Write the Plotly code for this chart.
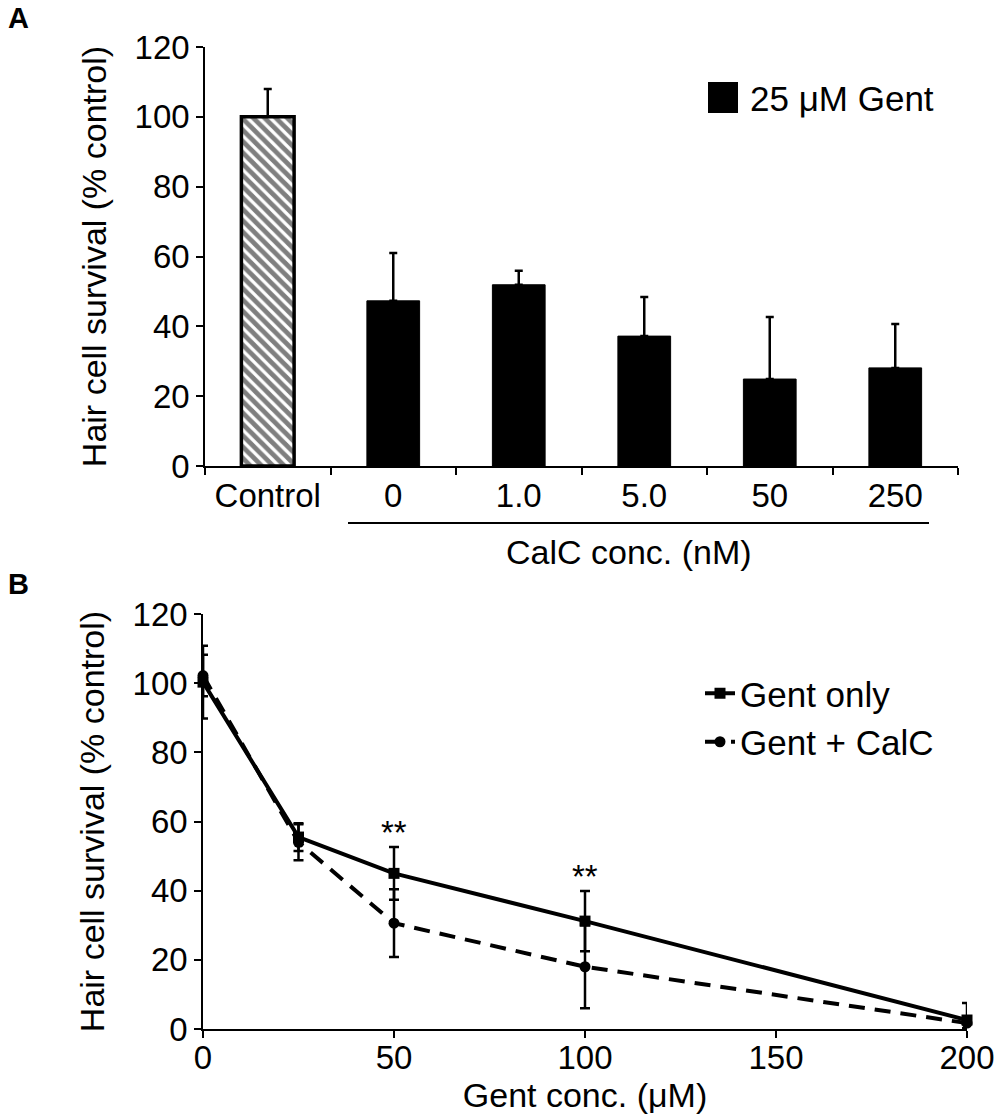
import plotly.graph_objects as go

# ---------- Data: panel A (bars) ----------
CATS_A = ["Control", "0", "1.0", "5.0", "50", "250"]
SURV_A = [100, 47.3, 51.9, 37.2, 24.9, 28.1]
ERR_A = [8.0, 13.7, 4.0, 11.2, 17.8, 12.6]
STAR_A = ["", "", "", "", "*", "*"]

# ---------- Data: panel B (dose response) ----------
GENT_X = [0, 25, 50, 100, 200]
GENT_ONLY = [100.3, 55.5, 45.0, 31.2, 2.6]
GENT_ONLY_ERR = [10.5, 4.0, 7.6, 8.7, 4.9]
GENT_CALC = [102.2, 54.0, 30.6, 18.0, 1.7]
GENT_CALC_ERR = [6.0, 5.2, 9.8, 12.0, 1.5]
STAR_B = ["", "", "**", "**", ""]

FONT = "Arial, Liberation Sans, sans-serif"
TICK_FS = 33
TITLE_FS = 34
LEG_FS = 35
W, H = 1000, 1118


def px(pixel):
    return pixel / W


def py(pixel):
    return 1 - pixel / H


fig = go.Figure()

# panel A
fig.add_trace(go.Bar(
    x=CATS_A[:1], y=SURV_A[:1], xaxis="x", yaxis="y", width=0.42, showlegend=False,
    marker=dict(color="white", line=dict(color="black", width=3.5),
                pattern=dict(shape="\\", fgcolor="black", bgcolor="white", size=8, solidity=0.6)),
    error_y=dict(type="data", symmetric=False, array=ERR_A[:1], arrayminus=[0],
                 color="black", thickness=2.5, width=4),
))
fig.add_trace(go.Bar(
    x=CATS_A[1:], y=SURV_A[1:], xaxis="x", yaxis="y", width=0.42, name="25 μM Gent",
    showlegend=False,
    marker=dict(color="black", line=dict(color="black", width=1)),
    error_y=dict(type="data", symmetric=False, array=ERR_A[1:], arrayminus=[0] * 5,
                 color="black", thickness=2.5, width=4),
))

# panel B
fig.add_trace(go.Scatter(
    x=GENT_X, y=GENT_ONLY, xaxis="x2", yaxis="y2", name="Gent only", legend="legend2",
    mode="lines+markers", cliponaxis=False,
    line=dict(color="black", width=4),
    marker=dict(symbol="square", size=11, color="black"),
    error_y=dict(type="data", array=GENT_ONLY_ERR, color="black", thickness=2.5, width=5),
))
fig.add_trace(go.Scatter(
    x=GENT_X, y=GENT_CALC, xaxis="x2", yaxis="y2", name="Gent + CalC", legend="legend2",
    mode="lines+markers", cliponaxis=False,
    line=dict(color="black", width=4, dash="16px,10px"),
    marker=dict(symbol="circle", size=11, color="black"),
    error_y=dict(type="data", array=GENT_CALC_ERR, color="black", thickness=2.5, width=5),
))

annotations = []
for c, v, e, s in zip(CATS_A, SURV_A, ERR_A, STAR_A):
    if s:
        annotations.append(dict(x=c, y=v + e, xref="x", yref="y", text=s, showarrow=False,
                                yanchor="bottom", font=dict(size=TICK_FS, color="black")))
for x, v, e, s in zip(GENT_X, GENT_ONLY, GENT_ONLY_ERR, STAR_B):
    if s:
        annotations.append(dict(x=x, y=v + e, xref="x2", yref="y2", text=s, showarrow=False,
                                yanchor="bottom", yshift=-6, font=dict(size=TICK_FS, color="black")))

annotations += [
    dict(x=px(6), y=py(0), xref="paper", yref="paper", text="<b>A</b>", showarrow=False,
         xanchor="left", yanchor="top", font=dict(size=29, color="black")),
    dict(x=px(6), y=py(566), xref="paper", yref="paper", text="<b>B</b>", showarrow=False,
         xanchor="left", yanchor="top", font=dict(size=29, color="black")),
    dict(x=px(629), y=py(552), xref="paper", yref="paper", text="CalC conc. (nM)", showarrow=False,
         xanchor="center", yanchor="middle", font=dict(size=TITLE_FS, color="black")),
    # panel A legend text (square drawn as a shape below)
    dict(x=px(748), y=py(98), xref="paper", yref="paper", text="25 μM Gent", showarrow=False,
         xanchor="left", yanchor="middle", font=dict(size=LEG_FS, color="black")),
]

axis_common = dict(showline=True, linecolor="black", linewidth=1.5, ticks="outside",
                   ticklen=7, tickcolor="black", tickwidth=1.5, showgrid=False, zeroline=False,
                   automargin=False, tickfont=dict(size=TICK_FS, color="black", family=FONT))
ytitle = "Hair cell survival (% control)"

fig.update_layout(
    width=W, height=H, margin=dict(l=0, r=0, t=0, b=0, autoexpand=False),
    paper_bgcolor="white", plot_bgcolor="white",
    font=dict(family=FONT, color="black", size=TICK_FS),
    xaxis=dict(domain=[px(205), px(958)], anchor="y", type="category", range=[-0.5, 5.5],
               tickson="boundaries", **axis_common),
    yaxis=dict(domain=[py(466), py(47)], anchor="x", range=[0, 120], tickvals=list(range(0, 121, 20)),
               title=dict(text=ytitle, standoff=18, font=dict(size=TITLE_FS, color="black")),
               **axis_common),
    xaxis2=dict(domain=[px(203), px(967)], anchor="y2", range=[0, 200], tickvals=[0, 50, 100, 150, 200],
                ticklabelstandoff=-8,
                title=dict(text="Gent conc. (μM)", standoff=3, font=dict(size=TITLE_FS, color="black")),
                **axis_common),
    yaxis2=dict(domain=[py(1029), py(614)], anchor="x2", range=[0, 120], tickvals=list(range(0, 121, 20)),
                title=dict(text=ytitle, standoff=18, font=dict(size=TITLE_FS, color="black")),
                **axis_common),
    legend2=dict(x=px(700), y=py(664), xanchor="left", yanchor="top", bgcolor="rgba(0,0,0,0)",
                 font=dict(size=LEG_FS, color="black"), tracegroupgap=0),
    annotations=annotations,
    shapes=[
        dict(type="line", xref="paper", yref="paper", x0=px(348), x1=px(929),
             y0=py(523), y1=py(523), line=dict(color="black", width=2)),
        dict(type="rect", xref="paper", yref="paper", x0=px(708), x1=px(738),
             y0=py(113), y1=py(82), fillcolor="black", line=dict(width=0)),
    ],
)

# page margin off so the 1000x1118 figure fills the window exactly
fig.write_html("out.html", config={"displayModeBar": False},
               post_script="document.body.style.margin='0';document.body.style.overflow='hidden';")
